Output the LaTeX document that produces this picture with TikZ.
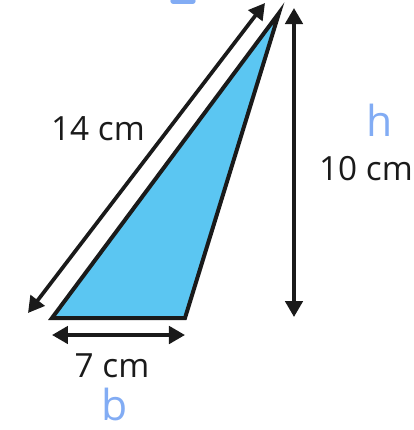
\documentclass[tikz,border=0pt]{standalone}
\usepackage{fontspec}
\setmainfont{Open Sans}
\usepackage{xcolor}
\usetikzlibrary{arrows.meta,positioning}

\definecolor{skyfill}{HTML}{5BC6F2}
\definecolor{inkblack}{HTML}{1A1A1A}
\definecolor{penblue}{HTML}{82ACF4}

\begin{document}
\begin{tikzpicture}[
    x=0.75pt, y=-0.75pt,
    dim/.style={{Triangle[length=12pt,width=13pt]}-{Triangle[length=12pt,width=13pt]}, line width=2.8pt, draw=inkblack},
    measure/.style={text=inkblack, font=\fontsize{25}{29}\selectfont, inner sep=0pt},
    hand/.style={text=penblue, font=\fontsize{32}{36}\selectfont, inner sep=0pt}
]
\useasboundingbox (0,0) rectangle (414,430);

% Corners of the triangle
\coordinate (A) at (52,318);
\coordinate (B) at (185,318);
\coordinate (C) at (279,13);

% Triangle
\draw[fill=skyfill, draw=inkblack, line width=3pt, line join=miter] (A) -- (B) -- (C) -- cycle;

% Measurement arrows
\coordinate (s1) at (28,313);
\coordinate (s2) at (265,3);
\draw[dim] (s1) -- (s2);

\coordinate (h1) at (294,8);
\coordinate (h2) at (294,317);
\draw[dim] (h1) -- (h2);

\coordinate (b1) at (52,335);
\coordinate (b2) at (185,335);
\draw[dim] (b1) -- (b2);

% Labels
\node[measure] (side) at (98,129) {14 cm};
\node[measure] (height) at (366,169) {10 cm};
\node[measure] (base) at (112,366) {7 cm};

% Handwritten notes
\node[hand] (hnote) at (380,120) {h};
\node[hand] (bnote) at (115,404) {b};
\begin{scope}
  \clip (0,0) rectangle (414,430);
  \draw[penblue, line width=4pt, line cap=round] (173,1) -- (193,1);
\end{scope}

\end{tikzpicture}
\end{document}
